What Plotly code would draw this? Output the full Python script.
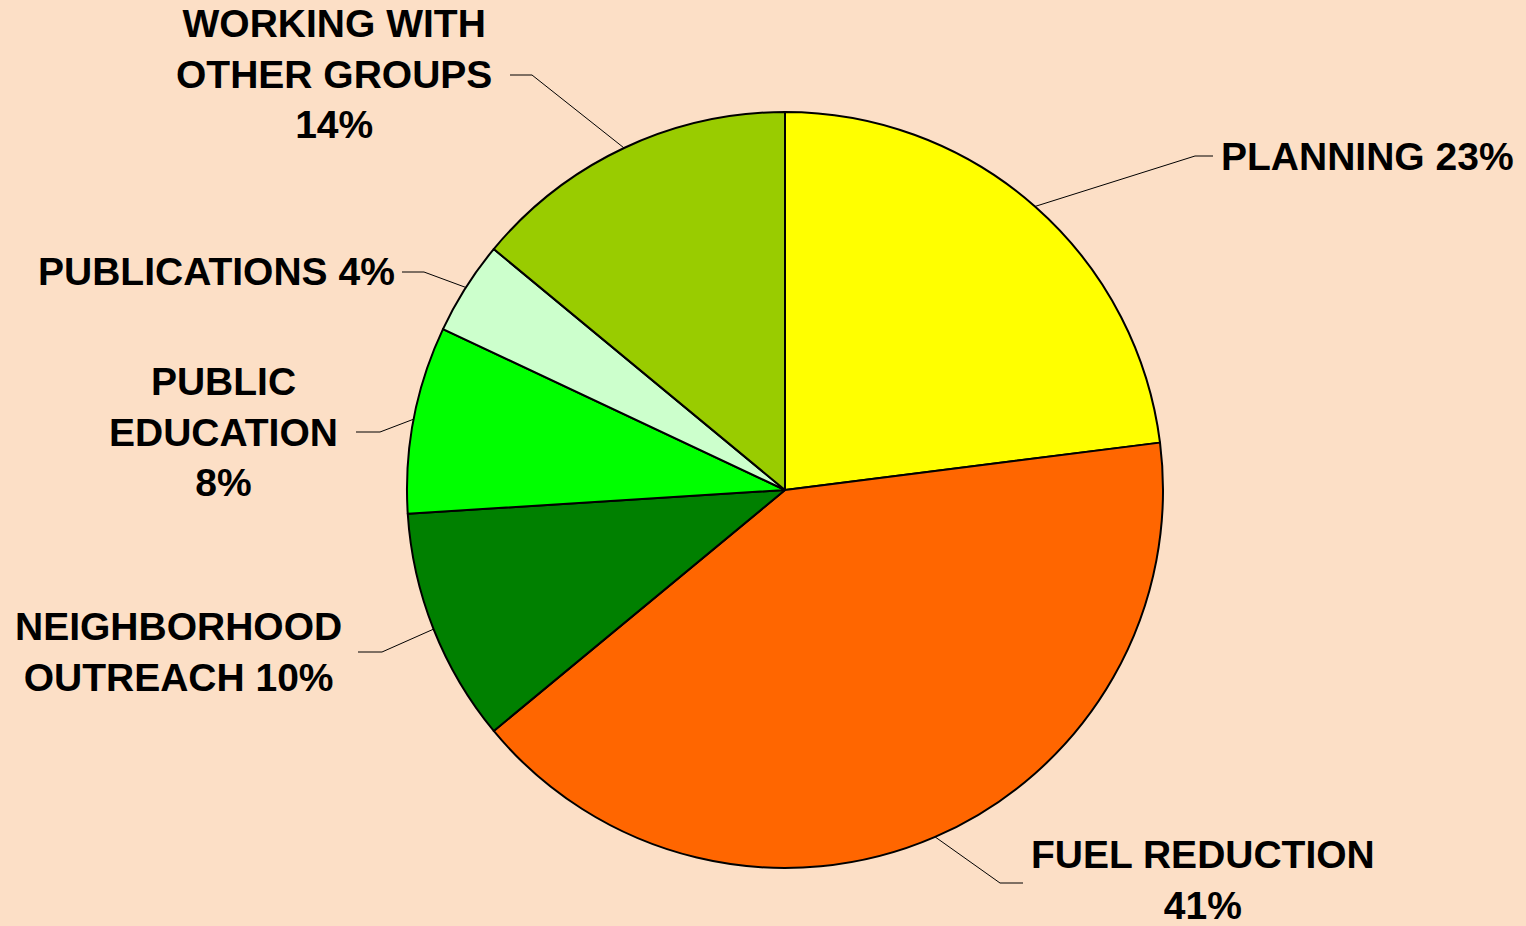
import math
import plotly.graph_objects as go

# ---- data ----
categories = ["PLANNING", "FUEL REDUCTION", "NEIGHBORHOOD OUTREACH",
              "PUBLIC EDUCATION", "PUBLICATIONS", "WORKING WITH OTHER GROUPS"]
values = [23, 41, 10, 8, 4, 14]
label_lines = ["PLANNING {p}", "FUEL REDUCTION<br>{p}", "NEIGHBORHOOD<br>OUTREACH {p}",
               "PUBLIC<br>EDUCATION<br>{p}", "PUBLICATIONS {p}", "WORKING WITH<br>OTHER GROUPS<br>{p}"]
colors = ["#FFFF00", "#FF6600", "#008000", "#00FF00", "#CCFFCC", "#99CC00"]

# ---- layout constants (pixels) ----
W, H = 1526, 926
CX, CY, R = 785, 490, 378
BG = "#FCDFC6"
FONT = "Arial, Liberation Sans, sans-serif"
FS = 39

# label anchor (x, y, xanchor), elbow point, line end point
label_pos = [
    ((1219, 156, "left"), (1195, 156), (1213, 156)),
    ((1203, 880, "center"), (1000, 883), (1023, 883)),
    ((178, 652, "center"), (382, 652), (358, 652)),
    ((223, 432, "center"), (380, 432), (356, 432)),
    ((397, 272, "right"), (424, 272), (402, 272)),
    ((334, 74, "center"), (532, 75), (510, 75)),
]

def px(x):
    return x / W

def py(y):
    return 1 - y / H

fig = go.Figure(go.Pie(
    labels=categories, values=values, sort=False, direction="clockwise", rotation=0,
    marker=dict(colors=colors, line=dict(color="black", width=2)),
    textinfo="none", hoverinfo="label+percent", showlegend=False,
    domain=dict(x=[px(CX - R), px(CX + R)], y=[py(CY + R), py(CY - R)]),
))

total = sum(values)
shapes, annotations = [], []
cum = 0
for i, v in enumerate(values):
    mid = (cum + v / 2) / total * 2 * math.pi
    cum += v
    ex = CX + R * math.sin(mid)
    ey = CY - R * math.cos(mid)
    (ax, ay, xa), (bx, by), (tx, ty) = label_pos[i]
    shapes.append(dict(type="line", xref="paper", yref="paper",
                       x0=px(ex), y0=py(ey), x1=px(bx), y1=py(by),
                       line=dict(color="black", width=1)))
    shapes.append(dict(type="line", xref="paper", yref="paper",
                       x0=px(bx), y0=py(by), x1=px(tx), y1=py(ty),
                       line=dict(color="black", width=1)))
    pct = f"{round(v / total * 100)}%"
    annotations.append(dict(
        text="<b>" + label_lines[i].format(p=pct).replace("<br>", "</b><br><b>") + "</b>",
        x=px(ax), y=py(ay), xref="paper", yref="paper",
        xanchor=xa, yanchor="middle", align="center", showarrow=False,
        font=dict(family=FONT, size=FS, color="black"),
    ))

fig.update_layout(
    width=W, height=H, margin=dict(l=0, r=0, t=0, b=0),
    paper_bgcolor=BG, plot_bgcolor=BG,
    shapes=shapes, annotations=annotations,
)

fig.write_html(
    "out.html",
    config={"displayModeBar": False},
    post_script="document.body.style.margin='0';document.body.style.overflow='hidden';"
                "document.body.style.background='" + BG + "';",
)
